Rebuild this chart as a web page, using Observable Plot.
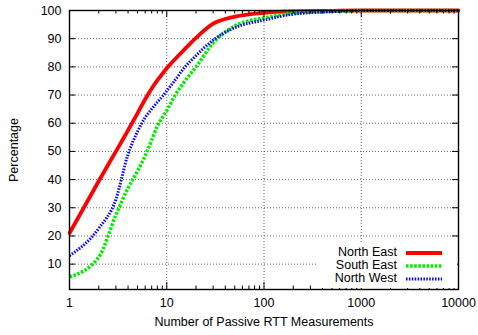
<!DOCTYPE html>
<html>
<head>
<meta charset="utf-8">
<script src="https://cdn.jsdelivr.net/npm/d3@7"></script>
<script src="https://cdn.jsdelivr.net/npm/@observablehq/plot@0.6"></script>
<style>
  html, body { margin: 0; padding: 0; background: #fff; }
  #wrap { position: relative; width: 478px; height: 335px; font-family: "Liberation Sans", Arial, Helvetica, sans-serif; }
  #legend { position: absolute; left: 318px; top: 244px; width: 139px; height: 44px; background: #fff; }
  #legend .row { position: absolute; left: 0; width: 139px; height: 13px; }
  #legend .lbl { position: absolute; right: 60px; top: 0; font-size: 12.5px; line-height: 13px; color: #000; white-space: nowrap; }
  #legend svg { position: absolute; left: 88px; top: 0; }
</style>
</head>
<body>
<div id="wrap"></div>
<script>
const counts = [1, 2, 3, 4, 5, 6, 7, 8, 9, 10, 12, 15, 20, 30, 50, 100, 200, 500, 1000, 10000];
const northEast = [21, 39.5, 50, 57.5, 63.5, 68.5, 72.3, 75.2, 77.5, 79.5, 82.5, 86, 90.3, 95.3, 97.8, 99.2, 99.7, 99.9, 100, 100];
const southEast = [5.5, 12.5, 27.5, 37, 43, 48.5, 54, 59, 62, 64.5, 69.5, 74.5, 80, 88.5, 94.5, 97.4, 99, 99.7, 100, 100];
const northWest = [13, 22.7, 33, 49, 57, 62, 65, 67.5, 69.5, 71.5, 75, 79.5, 84, 89.5, 93.9, 96.6, 98.7, 99.6, 100, 100];
const seriesNames = ["North East", "South East", "North West"];
const seriesColors = ["#ff0000", "#00ee00", "#0000ff"];
const seriesDash = ["none", "2.6,1.5", "1.5,1.4"];
const seriesWidth = [3.8, 3.5, 3];
const xMajor = [1, 10, 100, 1000, 10000];
const xMinor = [2,3,4,5,6,7,8,9,20,30,40,50,60,70,80,90,200,300,400,500,600,700,800,900,2000,3000,4000,5000,6000,7000,8000,9000];
const yMajor = [10, 20, 30, 40, 50, 60, 70, 80, 90, 100];

const W = 478, H = 335, ML = 69, MR = 20, MT = 10, MB = 46;
const plotW = W - ML - MR, plotH = H - MT - MB;

const seriesValues = [northEast, southEast, northWest];
const rows = [];
seriesNames.forEach((name, i) => counts.forEach((c, j) => rows.push({name, count: c, pct: seriesValues[i][j]})));

const lineMarks = seriesNames.map((name, i) => Plot.line(rows.filter(d => d.name === name), {
  x: "count", y: "pct", stroke: seriesColors[i], strokeWidth: seriesWidth[i],
  strokeDasharray: seriesDash[i], strokeLinecap: i === 0 ? "round" : "butt",
  strokeLinejoin: "round", curve: "monotone-x"
}));

const gridStyle = {stroke: "#666", strokeOpacity: 1, strokeWidth: 1, strokeDasharray: "1,2"};
const tickStyle = {stroke: "#000", strokeWidth: 1};

const chart = Plot.plot({
  width: W, height: H,
  marginLeft: ML, marginRight: MR, marginTop: MT, marginBottom: MB,
  style: {fontFamily: "'Liberation Sans', Arial, Helvetica, sans-serif", fontSize: "12.5px", color: "#000", background: "#fff"},
  x: {type: "log", domain: [1, 10000]},
  y: {domain: [1, 100]},
  marks: [
    Plot.gridX(xMajor, gridStyle),
    Plot.gridY(yMajor, gridStyle),
    ...lineMarks,
    Plot.axisX(xMajor, {anchor: "bottom", tickSize: 0, tickPadding: 9, tickFormat: d => String(d),
      label: "Number of Passive RTT Measurements", labelAnchor: "center", labelArrow: "none", labelOffset: 36}),
    Plot.axisY(yMajor, {anchor: "left", tickSize: 0, tickPadding: 8,
      label: "Percentage", labelAnchor: "center", labelArrow: "none", labelOffset: 60}),
    Plot.tickX(xMajor, {x: d => d, insetTop: plotH - 7, ...tickStyle}),
    Plot.tickX(xMinor, {x: d => d, insetTop: plotH - 3.5, ...tickStyle}),
    Plot.tickX(xMajor, {x: d => d, insetBottom: plotH - 7, ...tickStyle}),
    Plot.tickX(xMinor, {x: d => d, insetBottom: plotH - 3.5, ...tickStyle}),
    Plot.tickY(yMajor, {y: d => d, insetRight: plotW - 6, ...tickStyle}),
    Plot.tickY(yMajor, {y: d => d, insetLeft: plotW - 6, ...tickStyle}),
    Plot.frame({stroke: "#000", strokeWidth: 1.4})
  ]
});

const wrap = document.getElementById("wrap");
wrap.appendChild(chart);

const legend = document.createElement("div");
legend.id = "legend";
seriesNames.forEach((name, i) => {
  const row = document.createElement("div");
  row.className = "row";
  row.style.top = (1.5 + i * 13.3) + "px";
  const lbl = document.createElement("span");
  lbl.className = "lbl";
  lbl.textContent = name;
  row.appendChild(lbl);
  const s = d3.create("svg").attr("width", 40).attr("height", 13);
  s.append("line").attr("x1", 0).attr("x2", 36).attr("y1", 7).attr("y2", 7)
    .attr("stroke", seriesColors[i]).attr("stroke-width", seriesWidth[i])
    .attr("stroke-dasharray", seriesDash[i]);
  row.appendChild(s.node());
  legend.appendChild(row);
});
wrap.appendChild(legend);
</script>
</body>
</html>
